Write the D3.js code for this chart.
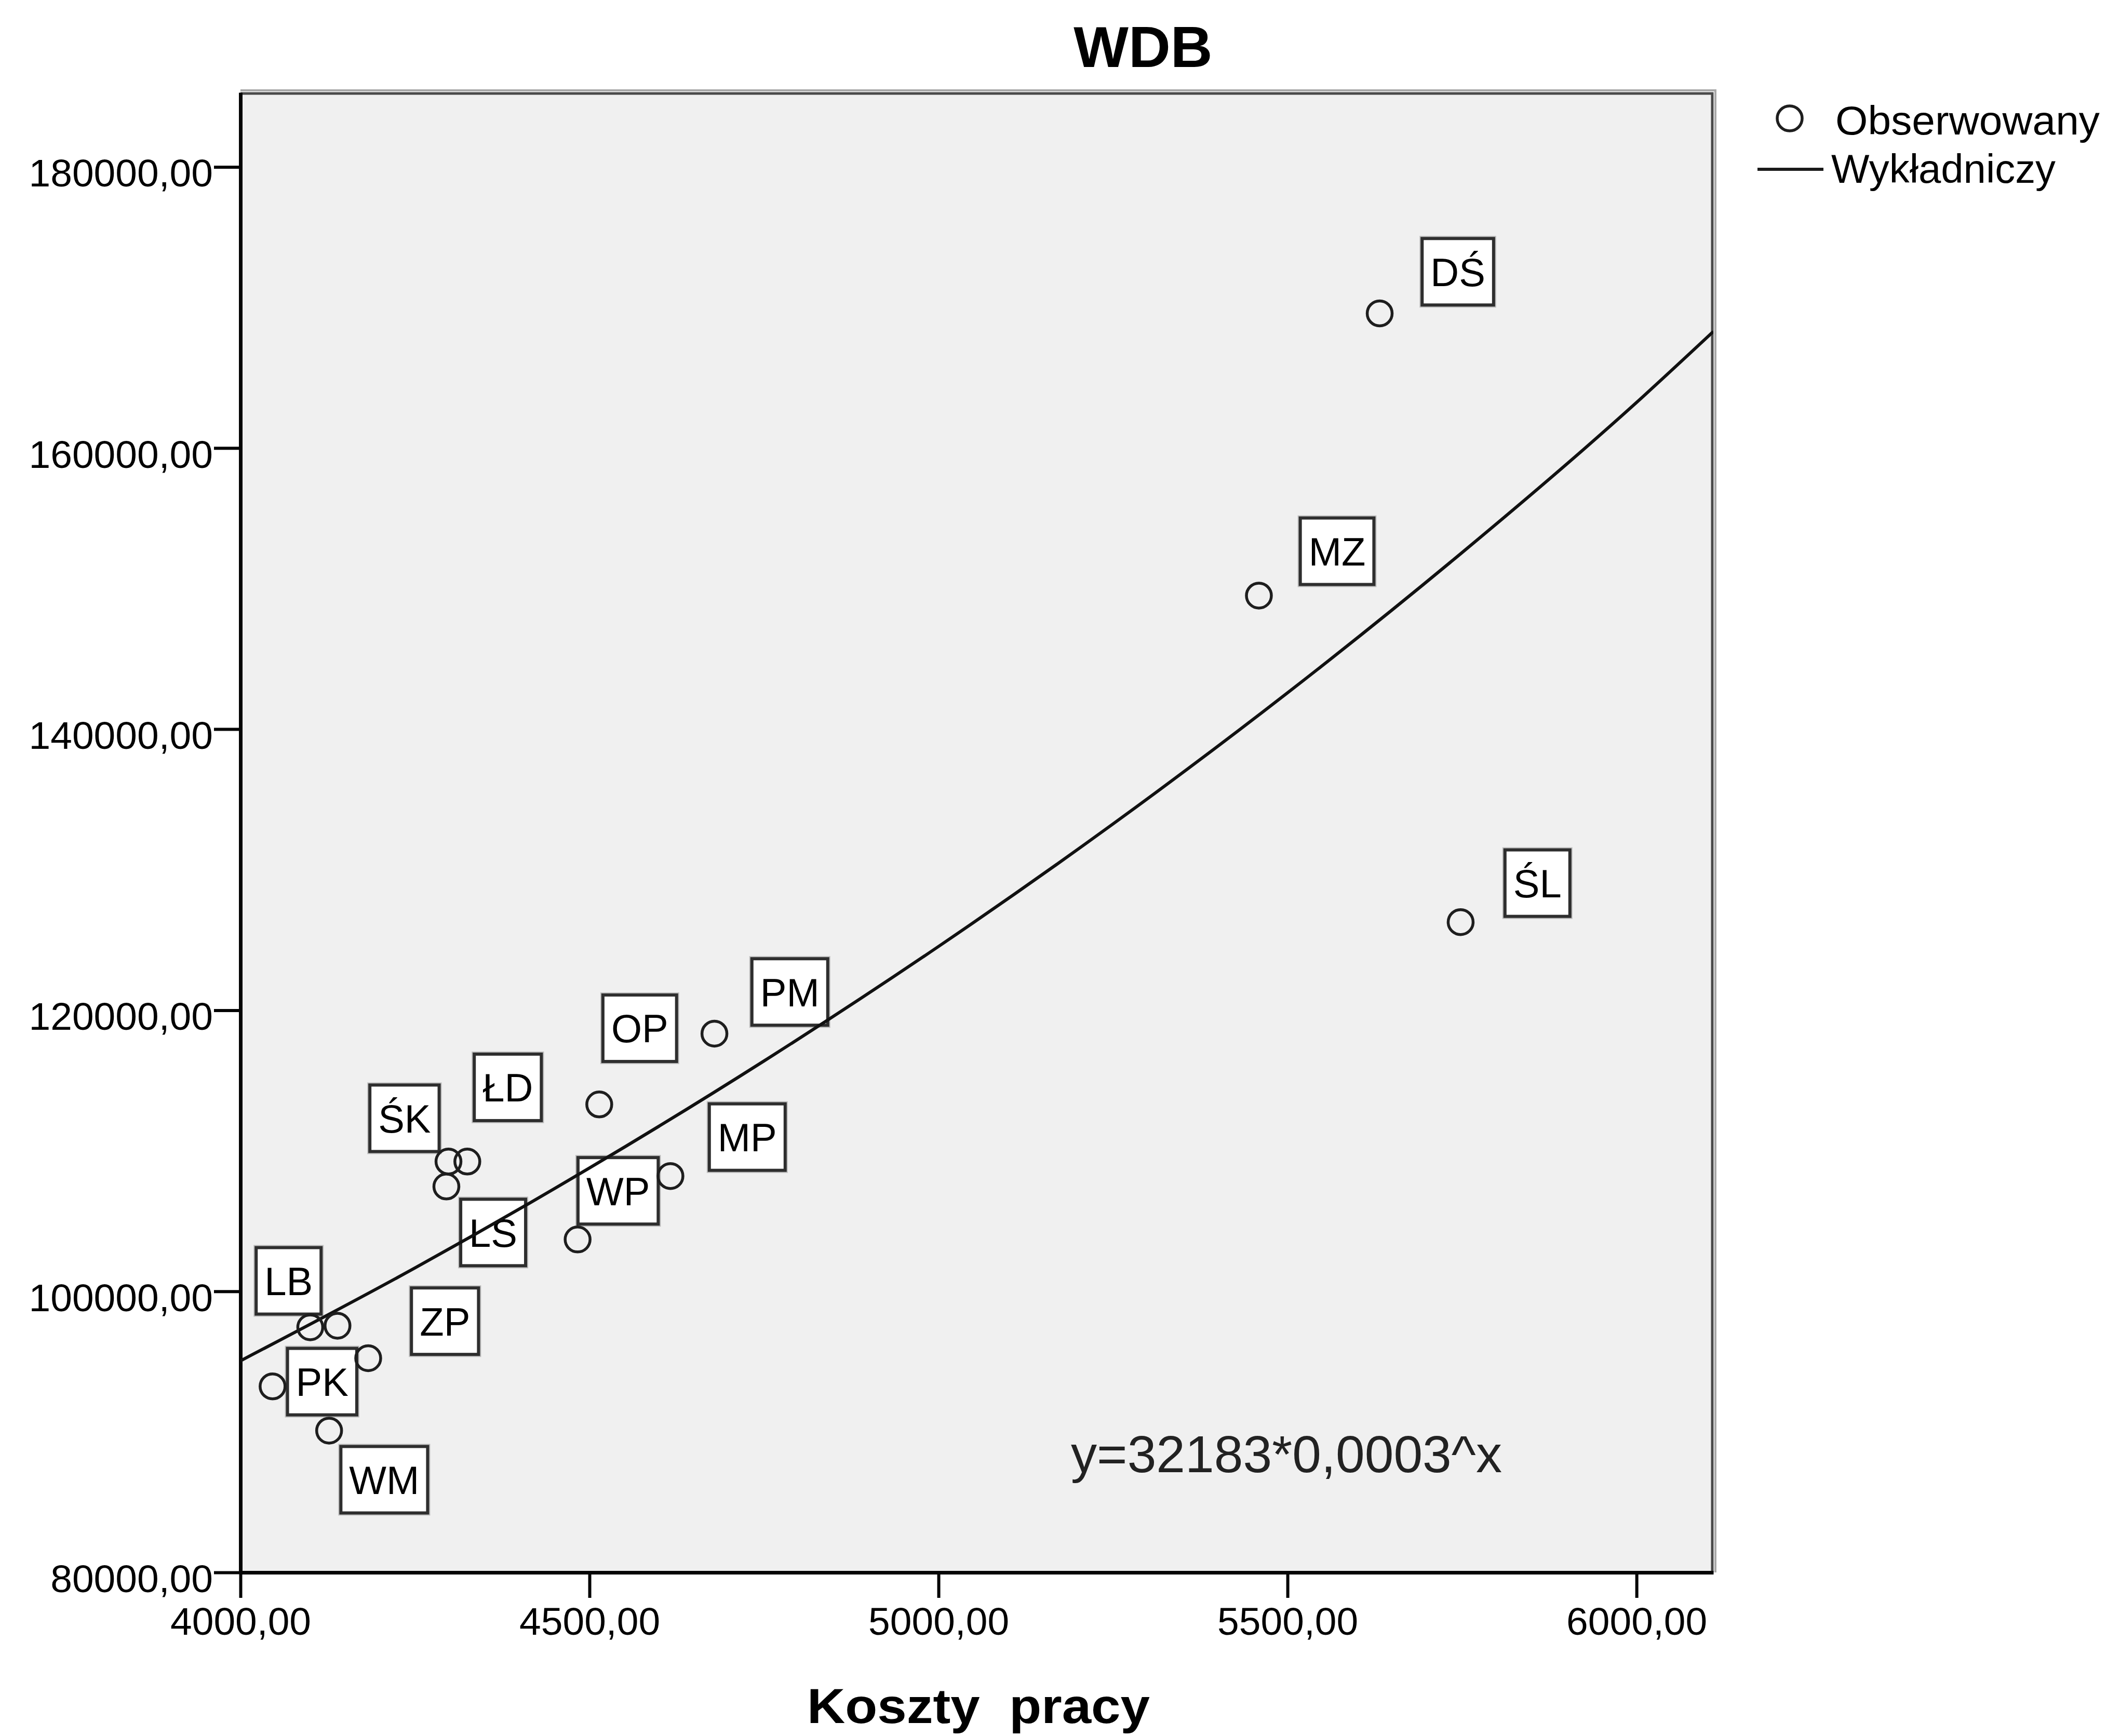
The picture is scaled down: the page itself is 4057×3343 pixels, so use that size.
<!DOCTYPE html>
<html>
<head>
<meta charset="utf-8">
<script src="https://cdn.jsdelivr.net/npm/d3@7"></script>
<style>
  html, body { margin: 0; padding: 0; background: #ffffff; }
  svg { display: block; }
  text { font-family: "Liberation Sans", Arial, sans-serif; }
</style>
</head>
<body>
<script>
// ---------- DATA ----------
const chartTitle = "WDB";
const xAxisTitle = "Koszty  pracy";
const equationText = "y=32183*0,0003^x";
const legendLabels = ["Obserwowany", "Wykładniczy"];

const regions = ["DŚ", "MZ", "ŚL", "PM", "OP", "MP", "WP", "ŁD", "ŚK", "LS", "LB", "", "ZP", "PK", "WM"];
const kosztyPracy = [5632, 5459, 5748, 4679, 4514, 4616, 4483, 4325, 4298, 4295, 4100, 4139, 4183, 4046, 4127];
const wdbValues = [169580, 149500, 126270, 118336, 113296, 108202, 103688, 109231, 109231, 107458, 97443, 97553, 95244, 93237, 90089];

// label anchor (data units)
const labelX = [5744, 5571, 5858, 4787, 4572, 4726, 4541, 4383, 4235, 4362, 4069, null, 4293, 4117, 4206];
const labelY = [172541, 152656, 129043, 121299, 118718, 110974, 107150, 114512, 112313, 104187, 100745, null, 97877, 93575, 86596];

// exponential fit curve
const fitX = [4000, 4250, 4500, 4750, 5000, 5250, 5500, 5750, 6000, 6110];
const fitY = [95055, 101663, 108775, 116389, 124536, 133254, 142581, 152560, 163241, 168285];

const xTicks = [4000, 4500, 5000, 5500, 6000];
const yTicks = [80000, 100000, 120000, 140000, 160000, 180000];
const xDomain = [4000, 6110];
const yDomain = [80000, 185300];

// ---------- LAYOUT ----------
const W = 4057, H = 3343;
const plot = { left: 463, right: 3299, top: 178, bottom: 3028 };
const FONT = '"Liberation Sans", Arial, sans-serif';

const svg = d3.select("body").append("svg")
  .attr("width", W).attr("height", H)
  .attr("viewBox", `0 0 ${W} ${H}`);

svg.append("rect").attr("width", W).attr("height", H).attr("fill", "#ffffff");

const x = d3.scaleLinear().domain(xDomain).range([plot.left, plot.right]);
const y = d3.scaleLinear().domain(yDomain).range([plot.bottom, plot.top]);

// plot background + frame
svg.append("rect")
  .attr("x", plot.left).attr("y", plot.top)
  .attr("width", plot.right - plot.left).attr("height", plot.bottom - plot.top)
  .attr("fill", "#f0f0f0");
// top / right frame (grey, with light outer edge)
svg.append("path")
  .attr("d", `M${plot.left},${plot.top - 4} H${plot.right + 4} V${plot.bottom}`)
  .attr("fill", "none").attr("stroke", "#a8a8a8").attr("stroke-width", 4);
svg.append("path")
  .attr("d", `M${plot.left},${plot.top + 2} H${plot.right - 2} V${plot.bottom}`)
  .attr("fill", "none").attr("stroke", "#4a4a4a").attr("stroke-width", 5);

// clip for curve
svg.append("clipPath").attr("id", "plotClip")
  .append("rect")
  .attr("x", plot.left).attr("y", plot.top)
  .attr("width", plot.right - plot.left).attr("height", plot.bottom - plot.top);

const fmt = d => d3.format(".2f")(d).replace(".", ",");

// axes
const yAxis = svg.append("g")
  .attr("transform", `translate(${plot.left},0)`)
  .call(d3.axisLeft(y).tickValues(yTicks).tickFormat(fmt).tickSize(51).tickSizeOuter(0).tickPadding(2));
const xAxis = svg.append("g")
  .attr("transform", `translate(0,${plot.bottom})`)
  .call(d3.axisBottom(x).tickValues(xTicks).tickFormat(fmt).tickSize(49).tickSizeOuter(0).tickPadding(18));

[yAxis, xAxis].forEach(g => {
  g.select(".domain").attr("stroke", "#050505").attr("stroke-width", 7);
  g.selectAll(".tick line").attr("stroke", "#050505").attr("stroke-width", 6);
  g.selectAll(".tick text")
    .attr("font-family", FONT).attr("font-size", 75).attr("fill", "#000");
});
yAxis.selectAll(".tick text").attr("dy", "0.5em");

// ---------- LABEL BOXES ----------
const pts = regions.map((r, i) => ({
  name: r, kx: kosztyPracy[i], wy: wdbValues[i], lx: labelX[i], ly: labelY[i]
}));

const labelG = svg.append("g");
pts.filter(d => d.name !== "").forEach(d => {
  const g = labelG.append("g").attr("transform", `translate(${x(d.lx)},${y(d.ly)})`);
  const t = g.append("text")
    .attr("text-anchor", "middle").attr("dy", "0.36em")
    .attr("font-family", FONT).attr("font-size", 76).attr("fill", "#000")
    .text(d.name);
  const tw = t.node().getComputedTextLength();
  const bw = tw + 32, bh = 128;
  g.insert("rect", "text")
    .attr("x", -bw / 2 - 3).attr("y", -bh / 2 - 3)
    .attr("width", bw + 6).attr("height", bh + 6)
    .attr("fill", "none").attr("stroke", "#bdbdbd").attr("stroke-width", 4);
  g.insert("rect", "text")
    .attr("x", -bw / 2).attr("y", -bh / 2)
    .attr("width", bw).attr("height", bh)
    .attr("fill", "#ffffff").attr("stroke", "#2e2e2e").attr("stroke-width", 6);
});

// ---------- FIT CURVE ----------
const fitData = fitX.map((v, i) => [v, fitY[i]]);
svg.append("path")
  .datum(fitData)
  .attr("clip-path", "url(#plotClip)")
  .attr("fill", "none").attr("stroke", "#111").attr("stroke-width", 6)
  .attr("d", d3.line().x(d => x(d[0])).y(d => y(d[1])).curve(d3.curveMonotoneX));

// ---------- POINTS ----------
svg.append("g").selectAll("circle")
  .data(pts)
  .join("circle")
  .attr("cx", d => x(d.kx)).attr("cy", d => y(d.wy))
  .attr("r", 24)
  .attr("fill", "none").attr("stroke", "#1e1e1e").attr("stroke-width", 5.5);

// ---------- EQUATION ----------
svg.append("text")
  .attr("x", 2062).attr("y", 2835)
  .attr("font-family", FONT).attr("font-size", 100).attr("fill", "#222")
  .attr("textLength", 830).attr("lengthAdjust", "spacingAndGlyphs")
  .text(equationText);

// ---------- TITLES ----------
svg.append("text")
  .attr("x", 2201).attr("y", 129)
  .attr("text-anchor", "middle")
  .attr("font-family", FONT).attr("font-size", 112).attr("font-weight", "bold")
  .attr("fill", "#000")
  .text(chartTitle);

svg.append("text")
  .attr("x", 1884).attr("y", 3318)
  .attr("text-anchor", "middle")
  .attr("font-family", FONT).attr("font-size", 94).attr("font-weight", "bold")
  .attr("fill", "#000")
  .style("white-space", "pre")
  .attr("textLength", 660).attr("lengthAdjust", "spacingAndGlyphs")
  .text(xAxisTitle);

// ---------- LEGEND ----------
const leg = svg.append("g");
leg.append("circle")
  .attr("cx", 3446).attr("cy", 228).attr("r", 24)
  .attr("fill", "none").attr("stroke", "#1e1e1e").attr("stroke-width", 5.5);
leg.append("text")
  .attr("x", 3534).attr("y", 259)
  .attr("font-family", FONT).attr("font-size", 77).attr("fill", "#000")
  .attr("textLength", 509).attr("lengthAdjust", "spacingAndGlyphs")
  .text(legendLabels[0]);
leg.append("line")
  .attr("x1", 3384).attr("x2", 3511).attr("y1", 326).attr("y2", 326)
  .attr("stroke", "#1a1a1a").attr("stroke-width", 6);
leg.append("text")
  .attr("x", 3526).attr("y", 352)
  .attr("font-family", FONT).attr("font-size", 77).attr("fill", "#000")
  .attr("textLength", 432).attr("lengthAdjust", "spacingAndGlyphs")
  .text(legendLabels[1]);
</script>
</body>
</html>
